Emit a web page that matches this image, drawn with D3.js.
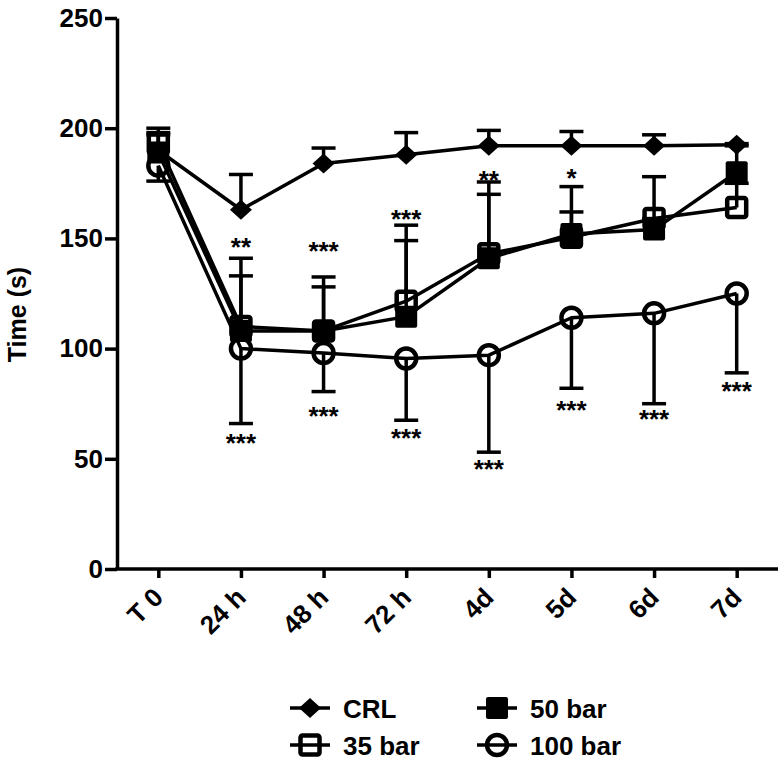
<!DOCTYPE html>
<html>
<head>
<meta charset="utf-8">
<script src="https://cdn.jsdelivr.net/npm/d3@7"></script>
<style>
  html, body { margin: 0; padding: 0; background: #fff; }
  svg { display: block; font-family: "Liberation Sans", Arial, sans-serif; font-weight: bold; }
</style>
</head>
<body>
<svg id="chart" width="784" height="765"></svg>
<script>
// ---------- data ----------
const categories = ["T 0", "24 h", "48 h", "72 h", "4d", "5d", "6d", "7d"];
const yTicks = [0, 50, 100, 150, 200, 250];

const crlMean   = [190, 163, 184, 188, 192, 192, 192, 192.5];
const crlErr    = [10, 16, 7, 10, 7, 6.5, 5, 0.5];          // upward
const bar35Mean = [193, 110, 108, 121.5, 143, 150.5, 159, 164];
const bar35Err  = [5, 31, 24.5, 34.5, 32.6, 23, 19, 11];    // upward
const bar50Mean = [189, 108, 108, 114.5, 141, 152, 154, 180];
const bar50Err  = [8, 25, 20, 34.5, 29, 10, 5, 12];         // upward
const bar100Mean = [183, 100, 98, 95.5, 97, 114, 116, 125];
const bar100Err  = [7, 34, 17.5, 28, 44, 32, 41, 36];       // downward

const sigUpper   = ["", "**", "***", "***", "**", "*", "", ""];
const sigUpperAt = [null, 149, 147, 161.5, 179, 180, null, null];
const sigLower   = ["", "***", "***", "***", "***", "***", "***", "***"];
const sigLowerAt = [null, 60, 72, 62, 48, 75, 71, 83.5];

const seriesNames = ["CRL", "35 bar", "50 bar", "100 bar"];

// ---------- setup ----------
const svg = d3.select("#chart");
const mLeft = 117, mRight = 778, mTop = 18, mBottom = 569;
const x = d3.scalePoint().domain(categories).range([mLeft, mRight]).padding(0.5);
const y = d3.scaleLinear().domain([0, 250]).range([mBottom, mTop]);

const series = [
  { name: seriesNames[0], mean: crlMean,   err: crlErr,   dir: 1,  shape: "diamond" },
  { name: seriesNames[1], mean: bar35Mean, err: bar35Err, dir: 1,  shape: "openSquare" },
  { name: seriesNames[2], mean: bar50Mean, err: bar50Err, dir: 1,  shape: "square" },
  { name: seriesNames[3], mean: bar100Mean, err: bar100Err, dir: -1, shape: "openCircle" }
];

const SW = 3.5;
const FS = 26;

// ---------- axes ----------
const yAxis = svg.append("g")
  .attr("transform", `translate(${mLeft},0)`)
  .call(d3.axisLeft(y).tickValues(yTicks).tickSize(12).tickSizeOuter(0).tickPadding(2));
yAxis.select(".domain").attr("stroke", "#000").attr("stroke-width", SW);
yAxis.selectAll(".tick line").attr("stroke", "#000").attr("stroke-width", SW);
yAxis.selectAll(".tick text").attr("font-size", FS).attr("font-weight", "bold")
  .attr("font-family", "Liberation Sans, Arial, sans-serif").attr("fill", "#000");

const xAxis = svg.append("g")
  .attr("transform", `translate(0,${mBottom})`)
  .call(d3.axisBottom(x).tickSize(9).tickSizeOuter(0));
xAxis.select(".domain").attr("stroke", "#000").attr("stroke-width", SW)
  .attr("d", `M${mLeft - SW / 2},0H${mRight}`);
xAxis.selectAll(".tick line").attr("stroke", "#000").attr("stroke-width", SW);
xAxis.selectAll(".tick text")
  .attr("font-size", FS).attr("font-weight", "bold")
  .attr("font-family", "Liberation Sans, Arial, sans-serif").attr("fill", "#000")
  .attr("text-anchor", "end")
  .attr("dy", null)
  .attr("y", null)
  .attr("transform", "translate(6,30) rotate(-45)");

// y title
svg.append("text")
  .attr("transform", `translate(26,${(mTop + mBottom) / 2 + 21}) rotate(-90)`)
  .attr("text-anchor", "middle")
  .attr("font-size", 25)
  .text("Time (s)");

// ---------- lines ----------
const line = d3.line().x((d, i) => x(categories[i])).y(d => y(d));
series.forEach(s => {
  svg.append("path")
    .attr("d", line(s.mean))
    .attr("fill", "none").attr("stroke", "#000").attr("stroke-width", SW)
    .attr("stroke-linejoin", "round");
});

// ---------- error bars ----------
const capW = 24;
series.forEach(s => {
  const g = svg.append("g").attr("stroke", "#000").attr("stroke-width", SW);
  s.mean.forEach((m, i) => {
    const cx = x(categories[i]);
    const end = m + s.dir * s.err[i];
    g.append("line").attr("x1", cx).attr("x2", cx).attr("y1", y(m)).attr("y2", y(end));
    g.append("line").attr("x1", cx - capW / 2).attr("x2", cx + capW / 2).attr("y1", y(end)).attr("y2", y(end));
  });
});

// ---------- markers ----------
function drawMarker(g, shape, cx, cy) {
  if (shape === "diamond") {
    g.append("path").attr("d", `M${cx},${cy - 10}L${cx + 11},${cy}L${cx},${cy + 10}L${cx - 11},${cy}Z`)
      .attr("fill", "#000");
  } else if (shape === "square") {
    g.append("rect").attr("x", cx - 11).attr("y", cy - 11).attr("width", 22).attr("height", 22)
      .attr("rx", 2).attr("fill", "#000");
  } else if (shape === "openSquare") {
    g.append("rect").attr("x", cx - 9.5).attr("y", cy - 9.5).attr("width", 19).attr("height", 19)
      .attr("rx", 2).attr("fill", "none").attr("stroke", "#000").attr("stroke-width", 4.5);
  } else if (shape === "openCircle") {
    g.append("circle").attr("cx", cx).attr("cy", cy).attr("r", 10)
      .attr("fill", "none").attr("stroke", "#000").attr("stroke-width", 4.5);
  }
}
series.forEach(s => {
  const g = svg.append("g");
  s.mean.forEach((m, i) => drawMarker(g, s.shape, x(categories[i]), y(m)));
});

// ---------- significance ----------
const sigG = svg.append("g").attr("font-size", 26).attr("text-anchor", "middle");
categories.forEach((c, i) => {
  if (sigUpper[i]) sigG.append("text").attr("x", x(c)).attr("y", y(sigUpperAt[i]) + 15).text(sigUpper[i]);
  if (sigLower[i]) sigG.append("text").attr("x", x(c)).attr("y", y(sigLowerAt[i]) + 15).text(sigLower[i]);
});

// ---------- legend ----------
const legendPos = [
  { x: 310, y: 708 }, { x: 310, y: 745 }, { x: 497, y: 708 }, { x: 497, y: 745 }
];
series.forEach((s, i) => {
  const p = legendPos[i];
  const g = svg.append("g");
  g.append("line").attr("x1", p.x - 20).attr("x2", p.x + 20).attr("y1", p.y).attr("y2", p.y)
    .attr("stroke", "#000").attr("stroke-width", SW);
  drawMarker(g, s.shape, p.x, p.y);
  g.append("text").attr("x", p.x + 33).attr("y", p.y + 9.5).attr("font-size", FS).text(s.name);
});
</script>
</body>
</html>
